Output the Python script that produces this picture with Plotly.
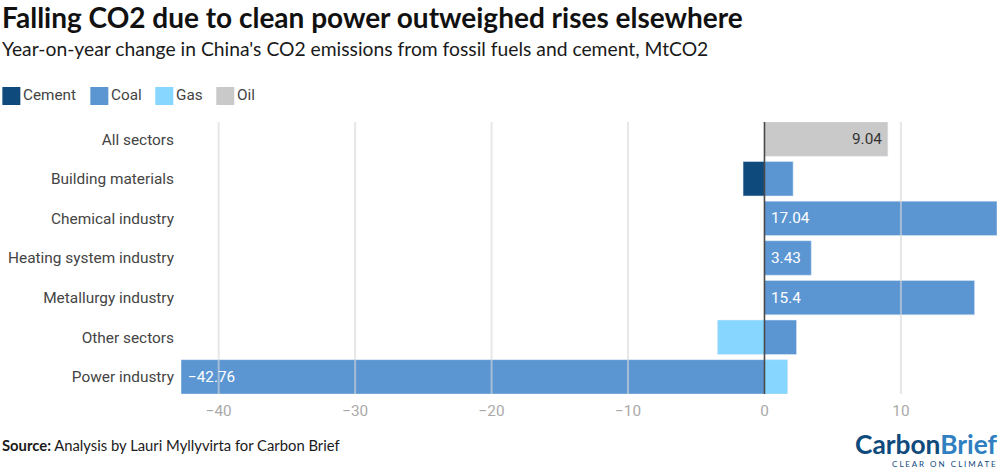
import plotly.graph_objects as go

categories = ['All sectors', 'Building materials', 'Chemical industry', 'Heating system industry',
              'Metallurgy industry', 'Other sectors', 'Power industry']

cement = [None, -1.57, None, None, None, None, None]
coal = [None, 2.1, 17.04, 3.43, 15.4, 2.35, -42.76]
gas = [None, None, None, None, None, -3.45, 1.7]
oil = [9.04, None, None, None, None, None, None]

tick_vals = [-40, -30, -20, -10, 0, 10]
tick_text = ['\u221240', '\u221230', '\u221220', '\u221210', '0', '10']

colors = {'Cement': '#0f4a7c', 'Coal': '#5b96d3', 'Gas': '#86d6ff', 'Oil': '#c9c9c9'}

WIDTH, HEIGHT = 1000, 472
L, R, T, B = 180.7, 3, 122, 78.2
TITLE_FONT = 'Lato'
LABEL_FONT = 'Roboto'


# page pixels to paper coordinates, for everything outside the plot area
def px(x):
    return (x - L) / (WIDTH - L - R)


def py(y):
    return 1 - (y - T) / (HEIGHT - T - B)


def page_text(x, y, text, size, color='#1a1a1a', family=TITLE_FONT, anchor='left'):
    return dict(xref='paper', yref='paper', x=px(x), y=py(y), text=text, showarrow=False,
                xanchor=anchor, yanchor='middle', align='left',
                font=dict(family=family, size=size, color=color))


def value_label(value, cat, color, x, anchor, shift):
    return dict(xref='x', yref='y', x=x, y=cat, text=value, showarrow=False, xanchor=anchor,
                xshift=shift, font=dict(family=LABEL_FONT, size=15.3, color=color))


fig = go.Figure()
for name, values in [('Cement', cement), ('Coal', coal), ('Gas', gas), ('Oil', oil)]:
    fig.add_trace(go.Bar(name=name, y=categories, x=values, orientation='h',
                         marker=dict(color=colors[name])))

# gridlines sit on top of the bars in the original
shapes = []
for v in tick_vals:
    if v == 0:
        line = dict(color='#4a4a4a', width=1.6)
    else:
        line = dict(color='rgba(215,215,215,0.6)', width=2)
    shapes.append(dict(type='line', xref='x', yref='paper', x0=v, x1=v, y0=0, y1=1,
                       layer='above', line=line))

annotations = [
    page_text(0, 17, '<b>Falling CO2 due to clean power outweighed rises elsewhere</b>', 28, '#111111'),
    page_text(0, 49, "Year-on-year change in China's CO2 emissions from fossil fuels and cement, MtCO2", 19.3),
    page_text(0, 445, '<b>Source:</b> Analysis by Lauri Myllyvirta for Carbon Brief', 14.8),
    page_text(1000, 444, '<b><span style="color:#0f4a7c">Carbon</span><span style="color:#2f7fc1">Brief</span></b>',
              26.3, anchor='right'),
    page_text(998, 464, 'C L E A R   O N   C L I M A T E', 8, '#0f4a7c', anchor='right'),
]

# only the larger bars carry labels
annotations.append(value_label('9.04', categories[0], '#333333', oil[0], 'right', -4))
for i in [2, 3, 4, 6]:
    text = str(coal[i]).replace('-', '\u2212')
    annotations.append(value_label(text, categories[i], 'white', min(coal[i], 0), 'left', 5))

# legend swatches are larger than plotly's own, so draw them
legend_x = [2, 90, 155, 216]
for name, x in zip(colors, legend_x):
    shapes.append(dict(type='rect', xref='paper', yref='paper', x0=px(x), x1=px(x + 18),
                       y0=py(87), y1=py(105), fillcolor=colors[name], line=dict(width=0)))
    annotations.append(page_text(x + 19, 95, name, 15.3, '#444444', LABEL_FONT))

fig.update_layout(
    width=WIDTH, height=HEIGHT,
    margin=dict(l=L, r=R, t=T, b=B, pad=0),
    paper_bgcolor='white', plot_bgcolor='white',
    barmode='relative', bargap=0.13,
    showlegend=False,
    shapes=shapes, annotations=annotations,
    xaxis=dict(range=[-42.76, 17.04], tickvals=tick_vals, ticktext=tick_text, showgrid=False,
               zeroline=False, showline=False, ticks='', ticklabelstandoff=6,
               tickfont=dict(family=LABEL_FONT, size=15.3, color='#aaaaaa')),
    yaxis=dict(range=[6.432, -0.432], showgrid=False, zeroline=False, showline=False, ticks='',
               ticklabelstandoff=6, tickfont=dict(family=LABEL_FONT, size=15.4, color='#444444')),
)

# the page's default body margin would push the chart off the window
fig.write_html("out.html", config=dict(displayModeBar=False),
               post_script="document.body.style.margin='0';")
